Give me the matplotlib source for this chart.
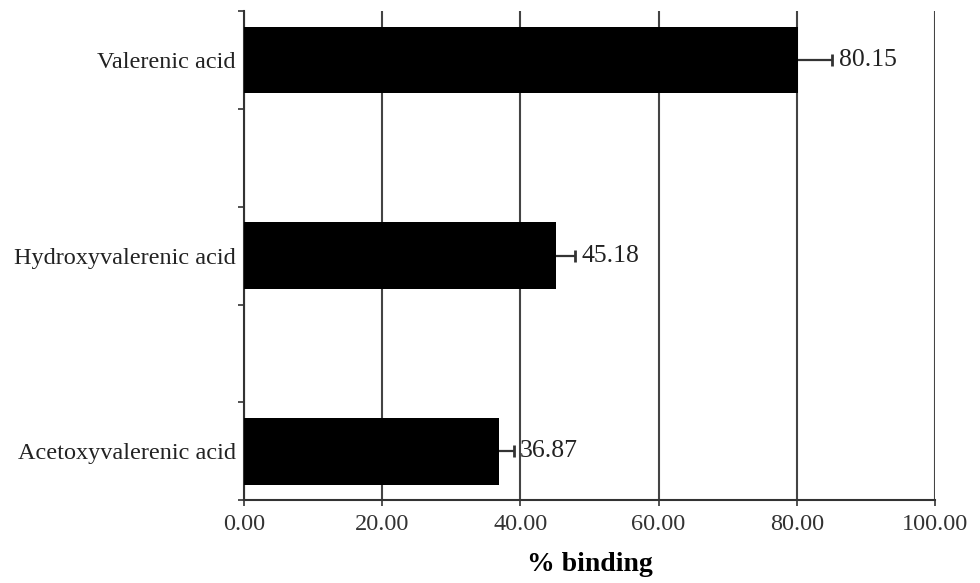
import numpy as np
import matplotlib.pyplot as plt

compounds = ["Acetoxyvalerenic acid", "Hydroxyvalerenic acid", "Valerenic acid"]
binding = [36.87, 45.18, 80.15]
errors = [2.2, 2.7, 5.0]
x_ticks = [0, 20, 40, 60, 80, 100]

plt.rcParams['font.family'] = ['Liberation Serif', 'DejaVu Serif']

fig = plt.figure(figsize=(9.8, 5.83), dpi=100)
ax = fig.add_axes([0.249, 0.142, 0.705, 0.839])

pos = np.arange(len(compounds))
ax.barh(pos, binding, height=0.34, color="black", zorder=3)

# one-sided error bars with a cap only at the outer end
ends = np.array(binding) + np.array(errors)
ax.hlines(pos, binding, ends, color="#333333", linewidth=1.6, zorder=3)
ax.plot(ends, pos, linestyle="none", marker="|", markersize=8, markeredgewidth=2,
        color="#333333", zorder=3)

for p, v, e in zip(pos, binding, errors):
    ax.text(v + e + 0.9, p, f"{v:.2f}", va="center", ha="left", fontsize=18.5, color="#222222")

ax.set_xlim(0, 100)
ax.set_ylim(-0.25, 2.25)
ax.set_xticks(x_ticks)
ax.set_xticklabels([f"{t:.2f}" for t in x_ticks], fontsize=17.5, color="#333333")
ax.set_yticks(pos)
ax.set_yticklabels(compounds, fontsize=17.5, color="#222222")
ax.set_yticks([-0.25, 0.25, 0.75, 1.25, 1.75, 2.25], minor=True)
ax.tick_params(axis="y", which="major", length=0, pad=6)
ax.tick_params(axis="y", which="minor", length=4, width=1.2, color="#333333")
ax.tick_params(axis="x", length=4, width=1.2, color="#333333", pad=6)

ax.xaxis.grid(True, color="#444444", linewidth=1.5, zorder=0)
ax.set_axisbelow(True)
for s in ["top", "right"]:
    ax.spines[s].set_visible(False)
for s in ["left", "bottom"]:
    ax.spines[s].set_color("#333333")
    ax.spines[s].set_linewidth(1.5)

ax.set_xlabel("% binding", fontsize=20, fontweight="bold", labelpad=12)

fig.savefig("out.png", dpi=100)
